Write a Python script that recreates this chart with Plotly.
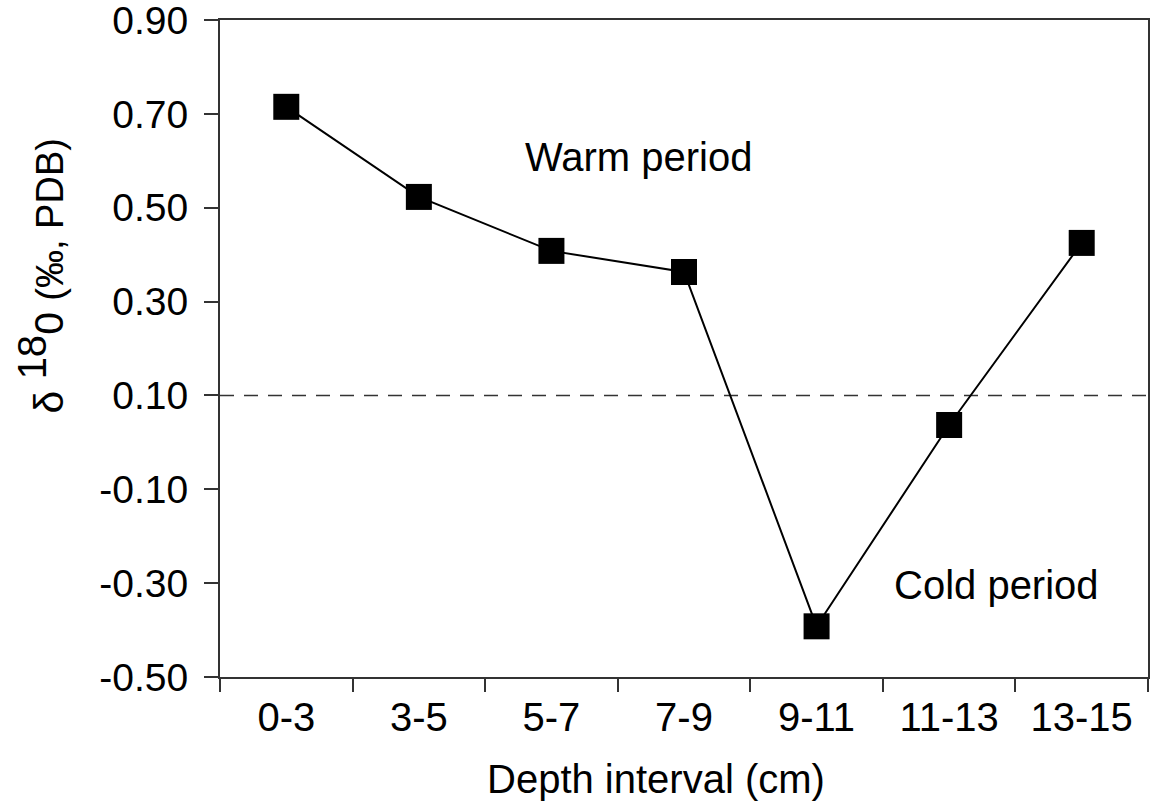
import plotly.graph_objects as go

categories = ["0-3", "3-5", "5-7", "7-9", "9-11", "11-13", "13-15"]
delta18o = [0.715, 0.523, 0.408, 0.363, -0.392, 0.037, 0.425]
threshold = 0.10
y_ticks = [-0.50, -0.30, -0.10, 0.10, 0.30, 0.50, 0.70, 0.90]
y_tick_labels = ["-0.50", "-0.30", "-0.10", "0.10", "0.30", "0.50", "0.70", "0.90"]

FONT = "Liberation Sans, Arial, Helvetica, sans-serif"

fig = go.Figure()
fig.add_trace(go.Scatter(
    x=categories, y=delta18o, mode="lines+markers",
    line=dict(color="black", width=2),
    marker=dict(symbol="square", size=26, color="black"),
    showlegend=False, hoverinfo="x+y",
))

fig.add_shape(type="line", xref="paper", yref="y", x0=0, x1=1, y0=threshold, y1=threshold,
              line=dict(color="#333333", width=1.6, dash="14px,10px"), layer="below")

fig.add_annotation(x=0.4515, y=0.608, xref="paper", yref="y", text="Warm period", showarrow=False,
                   xanchor="center", yanchor="middle",
                   font=dict(family=FONT, size=40, color="black"))
fig.add_annotation(x=0.837, y=-0.305, xref="paper", yref="y", text="Cold period", showarrow=False,
                   xanchor="center", yanchor="middle",
                   font=dict(family=FONT, size=40, color="black"))

fig.add_annotation(x=0.47, y=-0.155, xref="paper", yref="paper", text="Depth interval (cm)",
                   showarrow=False, font=dict(family=FONT, size=40, color="black"),
                   xanchor="center", yanchor="middle")
fig.add_annotation(x=-0.1925, y=0.61, xref="paper", yref="paper",
                   text="δ <sup><span style='font-size:40px'>18</span></sup>0 <span style='font-size:38px'>(‰, PDB)</span>",
                   textangle=-90, showarrow=False, font=dict(family=FONT, size=41, color="black"),
                   xanchor="center", yanchor="middle")

fig.update_layout(
    width=1151, height=808,
    margin=dict(l=220, r=3, t=20, b=131, autoexpand=False),
    paper_bgcolor="white", plot_bgcolor="white",
    font=dict(family=FONT, size=40, color="black"),
    xaxis=dict(
        type="category", range=[-0.5, 6.5], tickson="boundaries",
        ticks="outside", ticklen=13, tickwidth=2, tickcolor="#333333",
        showline=True, linecolor="#333333", linewidth=2, mirror=True,
        showgrid=False, zeroline=False, ticklabelstandoff=4, automargin=False,
        tickfont=dict(family=FONT, size=40, color="black"),
    ),
    yaxis=dict(
        range=[-0.5, 0.9], tickmode="array", tickvals=y_ticks, ticktext=y_tick_labels,
        ticks="outside", ticklen=14, tickwidth=2, tickcolor="#333333",
        showline=True, linecolor="#333333", linewidth=2, mirror=True,
        showgrid=False, zeroline=False, ticklabeloverflow="allow", automargin=False,
        ticklabelstandoff=8,
        tickfont=dict(family=FONT, size=39, color="black"),
    ),
)

fig.write_html("out.html", config={"displayModeBar": False},
               post_script="document.body.style.margin='0';document.body.style.overflow='hidden';")
